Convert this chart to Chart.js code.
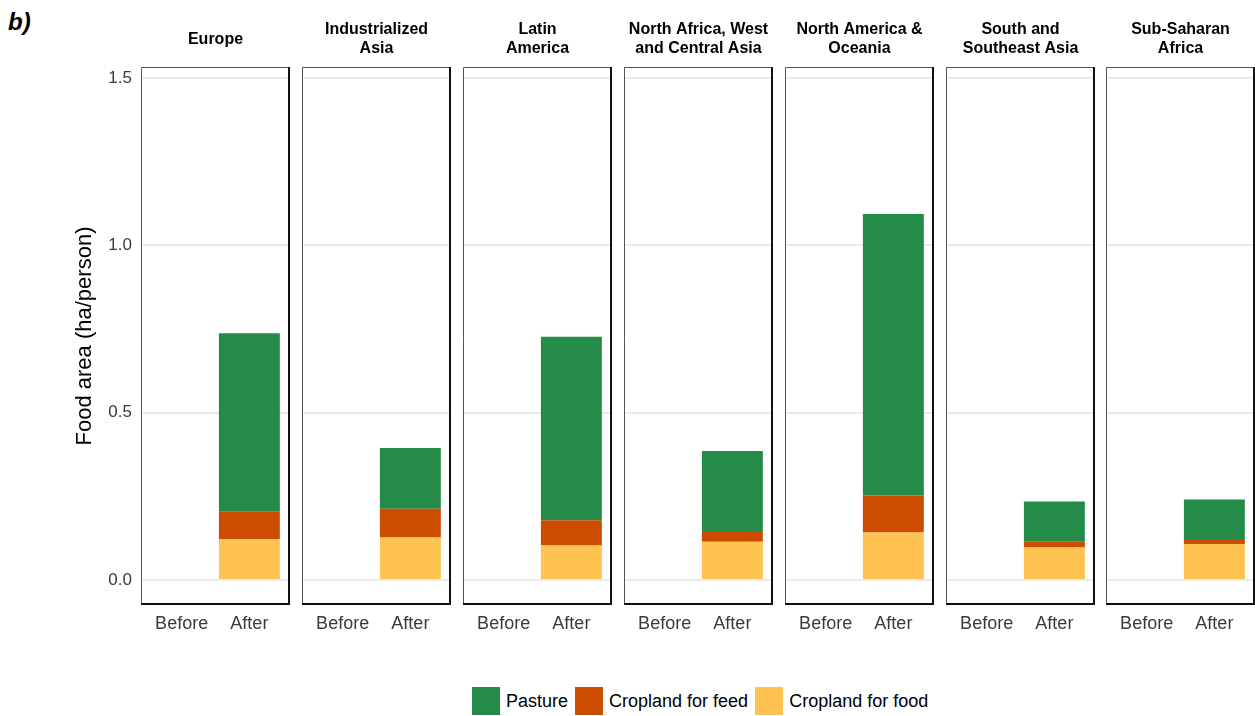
<!DOCTYPE html>
<html>
<head>
<meta charset="utf-8">
<script src="https://cdn.jsdelivr.net/npm/chart.js@4/dist/chart.umd.min.js"></script>
<style>
  body { margin: 0; background: #fff; width: 1255px; height: 716px; position: relative; overflow: hidden; font-family: 'Liberation Sans', Arial, sans-serif; }
  .panel { position: absolute; top: 0; }
  .tag { position: absolute; left: 8px; top: 8px; font: italic bold 24px 'Liberation Sans', Arial, sans-serif; }
  .legend { position: absolute; top: 687px; left: 472px; display: flex; align-items: center; font-size: 18px; color: #000; }
  .legend span.box { width: 28px; height: 28px; display: inline-block; margin-right: 6px; }
  .legend span.lab { margin-right: 7px; }
</style>
</head>
<body>
<div class="tag">b)</div>

<script>
// facet titles (one entry per region, lines split for the strip)
const regions = [
  ['Europe'],
  ['Industrialized', 'Asia'],
  ['Latin', 'America'],
  ['North Africa, West', 'and Central Asia'],
  ['North America &', 'Oceania'],
  ['South and', 'Southeast Asia'],
  ['Sub-Saharan', 'Africa'],
];
const periods = ['Before', 'After'];
const yTicks = [0, 0.5, 1.0, 1.5];

// ha/person, "Before" bars are empty in the figure
const foodBefore = [0, 0, 0, 0, 0, 0, 0];
const feedBefore = [0, 0, 0, 0, 0, 0, 0];
const pastureBefore = [0, 0, 0, 0, 0, 0, 0];
const foodAfter = [0.122, 0.127, 0.103, 0.114, 0.142, 0.097, 0.107];
const feedAfter = [0.082, 0.086, 0.075, 0.032, 0.110, 0.017, 0.015];
const pastureAfter = [0.533, 0.181, 0.549, 0.239, 0.842, 0.120, 0.118];

const colors = { pasture: '#258b49', feed: '#cc4d02', food: '#fec350' };

Chart.defaults.font.family = "'Liberation Sans', Arial, sans-serif";

const panelLefts = [141, 302, 463, 624, 785, 946, 1106];
const panelWidth = 149;
const panelTop = 67;
const canvasHeight = 640;

// strip title centred over the plot area, plus the ggplot-like panel border
const stripPlugin = {
  id: 'strip',
  afterDraw(chart, args, opts) {
    const { ctx, chartArea: a } = chart;
    ctx.save();
    ctx.fillStyle = '#000';
    ctx.font = "bold 16px 'Liberation Sans', Arial, sans-serif";
    ctx.textAlign = 'center';
    ctx.textBaseline = 'middle';
    const cx = (a.left + a.right) / 2;
    const lines = opts.lines || [];
    if (lines.length === 1) {
      ctx.fillText(lines[0], cx, 40);
    } else {
      lines.forEach((t, k) => ctx.fillText(t, cx, 30 + k * 19));
    }

    ctx.strokeStyle = '#555';
    ctx.lineWidth = 1;
    ctx.beginPath();
    ctx.moveTo(a.left + 0.5, a.bottom);
    ctx.lineTo(a.left + 0.5, a.top + 0.5);
    ctx.lineTo(a.right, a.top + 0.5);
    ctx.stroke();
    ctx.strokeStyle = '#111';
    ctx.lineWidth = 2;
    ctx.beginPath();
    ctx.moveTo(a.right - 1, a.top);
    ctx.lineTo(a.right - 1, a.bottom - 1);
    ctx.lineTo(a.left, a.bottom - 1);
    ctx.stroke();
    ctx.restore();
  }
};

function series(before, after, i) {
  return [{ x: 1, y: before[i] }, { x: 2, y: after[i] }];
}

regions.forEach((title, i) => {
  const first = i === 0;
  const left = first ? 0 : panelLefts[i];
  const width = first ? panelLefts[0] + panelWidth : panelWidth;

  const canvas = document.createElement('canvas');
  canvas.className = 'panel';
  canvas.width = width;
  canvas.height = canvasHeight;
  canvas.style.left = left + 'px';
  canvas.style.width = width + 'px';
  canvas.style.height = canvasHeight + 'px';
  document.body.appendChild(canvas);

  new Chart(canvas, {
    type: 'bar',
    data: {
      datasets: [
        { label: 'Cropland for food', data: series(foodBefore, foodAfter, i), backgroundColor: colors.food },
        { label: 'Cropland for feed', data: series(feedBefore, feedAfter, i), backgroundColor: colors.feed },
        { label: 'Pasture', data: series(pastureBefore, pastureAfter, i), backgroundColor: colors.pasture },
      ],
    },
    options: {
      responsive: false,
      animation: false,
      devicePixelRatio: 1,
      layout: { padding: { top: panelTop, left: 0, right: 0, bottom: 0 } },
      datasets: { bar: { barPercentage: 1, categoryPercentage: 0.9, borderWidth: 0 } },
      plugins: {
        legend: { display: false },
        tooltip: { enabled: false },
        title: { display: false },
        strip: { lines: title },
      },
      scales: {
        x: {
          type: 'linear',
          min: 0.4,
          max: 2.6,
          offset: false,
          stacked: true,
          grid: { display: false, drawTicks: false },
          border: { display: false },
          afterBuildTicks: (s) => { s.ticks = [{ value: 1 }, { value: 2 }]; },
          afterFit: (s) => { s.height = canvasHeight - 605; },
          ticks: {
            padding: 8,
            color: '#3a3a3a',
            font: { size: 18 },
            autoSkip: false,
            maxRotation: 0,
            callback: (v) => periods[v - 1],
          },
        },
        y: {
          min: -0.075,
          max: 1.533,
          stacked: true,
          grid: { color: '#ebebeb', lineWidth: 2, drawTicks: false },
          border: { display: false },
          afterBuildTicks: (s) => { s.ticks = yTicks.map((v) => ({ value: v })); },
          afterFit: (s) => { s.width = first ? panelLefts[0] : 0; },
          ticks: {
            display: first,
            padding: 9,
            color: '#3a3a3a',
            font: { size: 17 },
            callback: (v) => v.toFixed(1),
          },
          title: {
            display: first,
            text: 'Food area (ha/person)',
            color: '#000',
            font: { size: 22, lineHeight: 1.2 },
            padding: { top: 72, bottom: 0 },
          },
        },
      },
    },
    plugins: [stripPlugin],
  });
});
</script>

<div class="legend">
  <span class="box" style="background:#258b49"></span><span class="lab">Pasture</span>
  <span class="box" style="background:#cc4d02"></span><span class="lab">Cropland for feed</span>
  <span class="box" style="background:#fec350"></span><span class="lab">Cropland for food</span>
</div>
</body>
</html>
